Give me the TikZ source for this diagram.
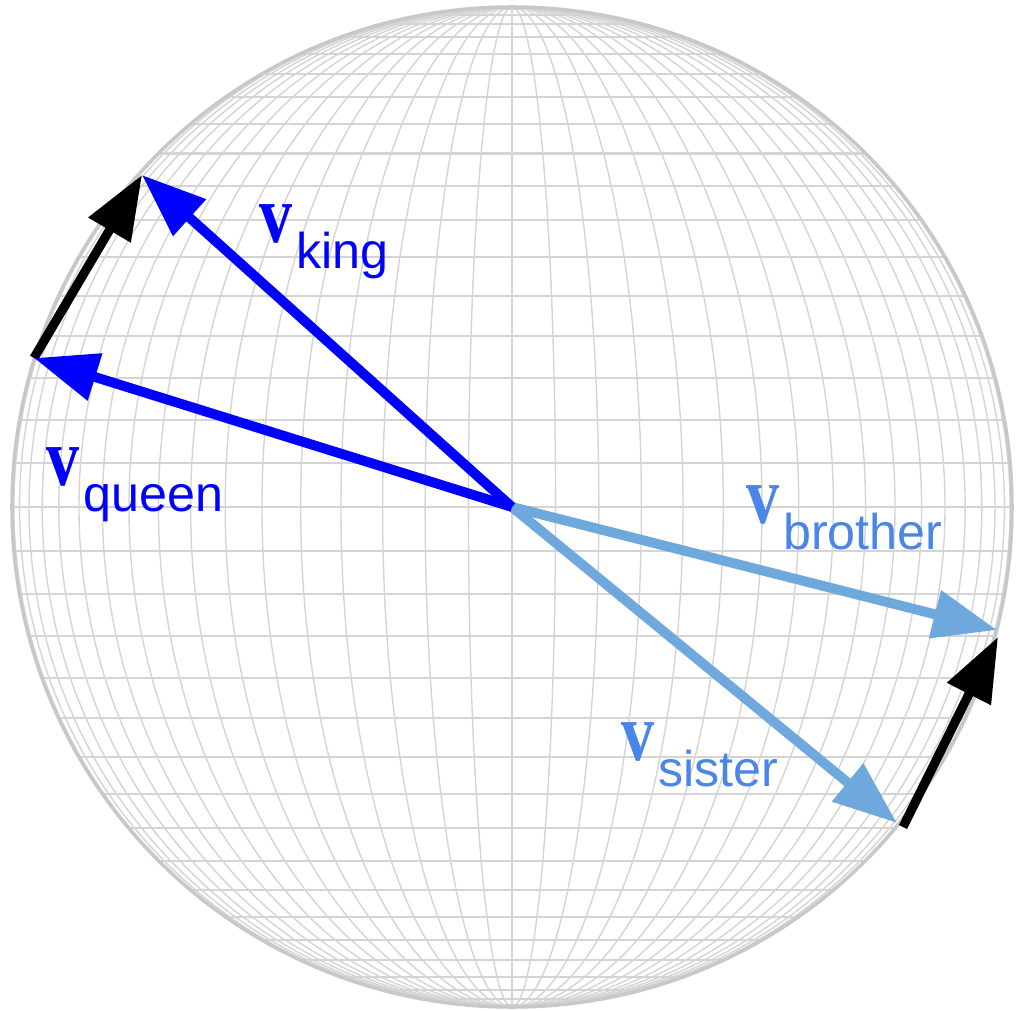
\documentclass[tikz,border=0pt]{standalone}
\usepackage{fontspec}
\setmainfont{Liberation Sans}
\newfontfamily\vserif{Liberation Serif}
\usepackage{graphicx}
\usepackage{tikz}
\usetikzlibrary{arrows.meta}
\usepackage{xcolor}
\definecolor{gridgray}{RGB}{212,212,212}
\definecolor{rimgray}{RGB}{200,200,200}
\definecolor{kingblue}{RGB}{0,0,255}
\definecolor{sibblue}{RGB}{111,168,220}
\definecolor{siblabel}{RGB}{74,134,232}
\newcommand{\wv}[1]{\scalebox{0.8}[1]{\vserif\bfseries\fontsize{23.5}{23.5}\selectfont v}\kern1pt\raisebox{-0.26cm}{\fontsize{14.3}{14.3}\selectfont #1}}
\tikzset{
  meridian/.style = {draw=gridgray, line width=0.4pt},
  parallel/.style = {draw=gridgray, line width=0.6pt},
  rim/.style = {draw=rimgray, line width=1pt},
  wordvec/.style = {-{Triangle[length=0.64cm, width=0.47cm]}, line width=2.8pt},
  diffvec/.style = {-{Triangle[length=0.64cm, width=0.47cm]}, line width=2.6pt, black},
  veclabel/.style = {anchor=base west, inner sep=0pt}
}
\begin{document}
\begin{tikzpicture}
\useasboundingbox (-5.12,-5.03) rectangle (5.07,5.07);

% sphere grid
\foreach \lon in {5,10,...,85}
  \draw[meridian] (0,0) ellipse ({5*sin(\lon)} and 5);
\draw[meridian] (0,-5) -- (0,5);
\foreach \lat in {-85,-80,...,85}
  \draw[parallel] ({-5*cos(\lat)},{5*sin(\lat)}) -- ({5*cos(\lat)},{5*sin(\lat)});
\draw[rim] (0,0) circle (5);

\coordinate (o) at (0,0);
\coordinate (king) at (-3.70,3.32);
\coordinate (queen) at (-4.78,1.49);
\coordinate (brother) at (4.85,-1.23);
\coordinate (sister) at (3.85,-3.16);

% difference vectors
\draw[diffvec] (queen) -- (king);
\draw[diffvec] ([shift={(0.06,-0.04)}]sister) -- ([shift={(0.01,-0.07)}]brother);

% word vectors
\draw[wordvec, sibblue] (o) -- (brother);
\draw[wordvec, sibblue] (o) -- (sister);
\draw[wordvec, kingblue] (o) -- (king);
\draw[wordvec, kingblue] (o) -- (queen);

\node[veclabel, text=kingblue] (kinglab) at (-2.53,2.65) {\wv{king}};
\node[veclabel, text=kingblue] (queenlab) at (-4.66,0.22) {\wv{queen}};
\node[veclabel, text=siblabel] (brotherlab) at (2.34,-0.16) {\wv{brother}};
\node[veclabel, text=siblabel] (sisterlab) at (1.09,-2.53) {\wv{sister}};

\end{tikzpicture}
\end{document}
